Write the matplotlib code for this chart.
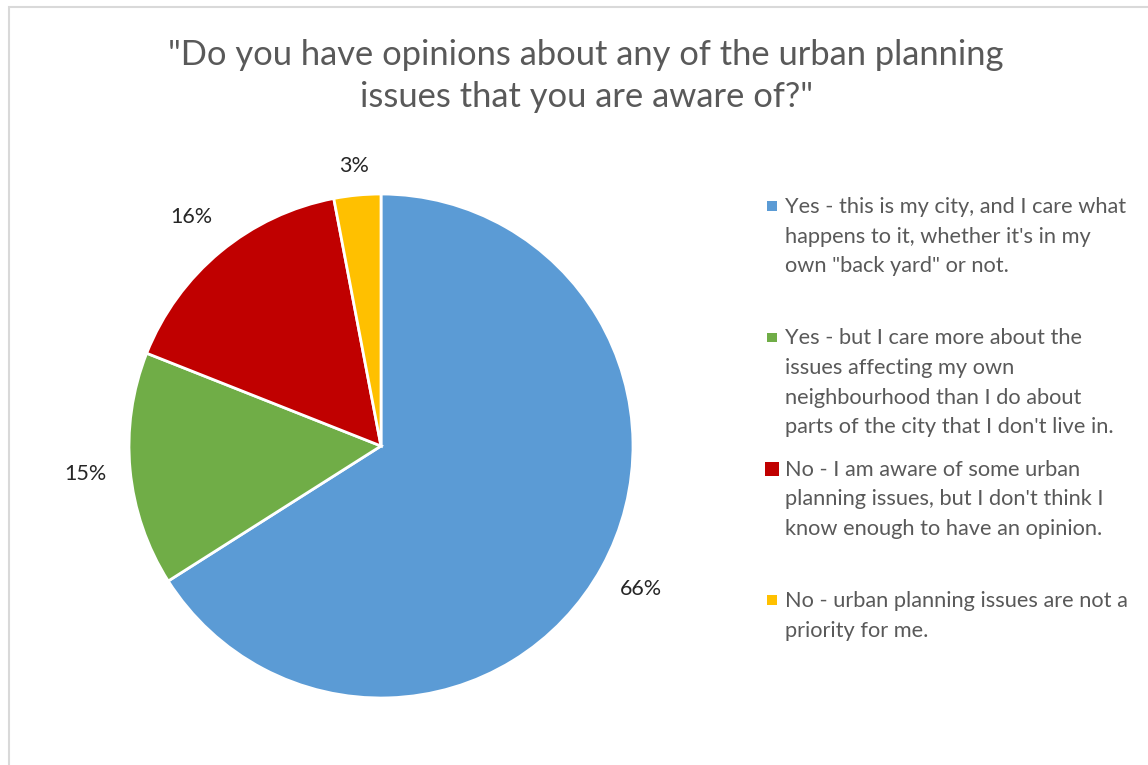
import matplotlib
matplotlib.use('Agg')
import matplotlib.pyplot as plt
import numpy as np
from matplotlib.patches import Rectangle

plt.rcParams['font.family'] = ['Lato', 'DejaVu Sans']

title = '"Do you have opinions about any of the urban planning\nissues that you are aware of?"'
answers = ['Yes - this is my city, and I care what\nhappens to it, whether it\'s in my\nown "back yard" or not.',
           'Yes - but I care more about the\nissues affecting my own\nneighbourhood than I do about\nparts of the city that I don\'t live in.',
           'No - I am aware of some urban\nplanning issues, but I don\'t think I\nknow enough to have an opinion.',
           'No - urban planning issues are not a\npriority for me.']
shares = [66, 15, 16, 3]
colors = ['#5B9BD5', '#70AD47', '#C00000', '#FFC000']
label_dist = [1.177, 1.18, 1.18, 1.118]

W, H = 1148, 765
fig = plt.figure(figsize=(W / 100, H / 100), dpi=100)

# chart frame
fig.patches.append(Rectangle((9 / W, -0.01), 1.1, (H - 7) / H + 0.01, transform=fig.transFigure,
                             fill=False, ec='#d9d9d9', lw=1.5))

# pie centre / radius in pixels
cx, cy, R = 381, 446, 252
s = 1.1
ax = fig.add_axes([(cx - s * R) / W, (H - cy - s * R) / H, 2 * s * R / W, 2 * s * R / H])
wedges, _, pcts = ax.pie(shares, colors=colors, startangle=90, counterclock=False,
                         autopct='%d%%', pctdistance=1.17,
                         wedgeprops=dict(edgecolor='white', linewidth=2),
                         textprops=dict(fontsize=15.5, color='#262626'))
for w, t, d in zip(wedges, pcts, label_dist):
    a = np.deg2rad((w.theta1 + w.theta2) / 2)
    t.set_position((d * np.cos(a), d * np.sin(a)))
ax.set_xlim(-s, s)
ax.set_ylim(-s, s)
ax.set_aspect('equal')

fig.text(586 / W, 1 - 76 / H, title, ha='center', va='center', fontsize=24.8,
         color='#595959', linespacing=1.42)

# legend, drawn line by line (baselines in px)
y0 = 213
for i, (lab, col) in enumerate(zip(answers, colors)):
    y = y0 + i * 131.3
    sz = 14 if i == 2 else 9.5
    fig.patches.append(Rectangle(((772 - sz / 2) / W, 1 - (y - 7 + sz / 2) / H), sz / W, sz / H,
                                 transform=fig.transFigure, fc=col, ec='none'))
    for k, line in enumerate(lab.split('\n')):
        fig.text(785 / W, 1 - (y + k * 29.6) / H, line, ha='left', va='baseline',
                 fontsize=15.7, color='#595959')

fig.savefig('out.png', dpi=100)
